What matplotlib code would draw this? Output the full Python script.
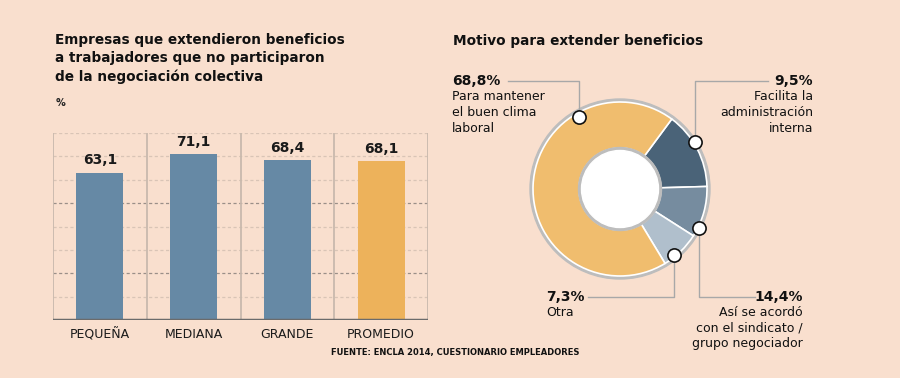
import matplotlib.pyplot as plt
import numpy as np

# bar chart data
tamanos = ['PEQUEÑA', 'MEDIANA', 'GRANDE', 'PROMEDIO']
pct_empresas = [63.1, 71.1, 68.4, 68.1]
etiquetas_barras = ['63,1', '71,1', '68,4', '68,1']

# donut data (drawn clockwise from the top-right edge of the yellow slice)
motivos = ['Facilita la administración interna',
           'Así se acordó con el sindicato / grupo negociador',
           'Otra', 'Para mantener el buen clima laboral']
pct_motivos = [14.4, 9.5, 7.3, 68.8]

BG = '#f9dfce'
BLUE = '#6689a5'
ORANGE = '#edb25b'
FONT = 'DejaVu Sans'

plt.rcParams['font.family'] = [FONT]

fig = plt.figure(figsize=(9, 3.78), dpi=100, facecolor=BG)
W, H = 900, 378


def px(x, y):
    return x / W, 1 - y / H


# ---- left: bars ----
ax = fig.add_axes([53 / W, 1 - 320 / H, (428 - 53) / W, (320 - 133) / H])
ax.set_facecolor(BG)
x = np.arange(len(tamanos))
colors = [BLUE, BLUE, BLUE, ORANGE]
ax.bar(x, pct_empresas, width=0.5, color=colors, zorder=3)
ax.set_xlim(-0.5, len(tamanos) - 0.5)
ax.set_ylim(0, 80)
for v in range(10, 81, 10):
    dark = v in (20, 50)
    ax.axhline(v, color='#9a8f88' if dark else '#d9c4b6', lw=0.9,
               ls=(0, (2.5, 2)), zorder=1)
for b in np.arange(-0.5, len(tamanos), 1):
    ax.axvline(b, color='#c9b9ad', lw=1.3, zorder=2)
ax.axhline(0, color='#6b6b6b', lw=2.5, zorder=4)
for xi, v, t in zip(x, pct_empresas, etiquetas_barras):
    ax.text(xi, v + 2.2, t, ha='center', va='bottom', fontsize=10,
            fontweight='bold', color='#1a1a1a')
ax.set_xticks(x)
ax.set_xticklabels(tamanos, fontsize=9, color='#1a1a1a')
ax.tick_params(axis='x', length=0, pad=6)
ax.set_yticks([])
for s in ax.spines.values():
    s.set_visible(False)

fig.text(*px(55, 33), 'Empresas que extendieron beneficios\na trabajadores que no participaron\nde la negociación colectiva',
         fontsize=9.8, fontweight='bold', va='top', ha='left',
         linespacing=1.38, color='#111111')
fig.text(*px(56, 103), '%', fontsize=7, fontweight='bold', va='center', color='#222222')
fig.text(*px(455, 352), 'FUENTE: ENCLA 2014, CUESTIONARIO EMPLEADORES',
         fontsize=6, fontweight='bold', ha='center', va='center',
         family=['Liberation Sans Narrow', FONT], color='#111111')

# ---- right: donut ----
ov = fig.add_axes([0, 0, 1, 1])
ov.set_xlim(0, W)
ov.set_ylim(0, H)
ov.axis('off')
ov.patch.set_alpha(0)

cx, cy = 620, H - 189
ov.add_patch(plt.Circle((cx, cy), 90, color='#bdbdbd', zorder=1))
ov.pie(pct_motivos, colors=['#4a6378', '#768c9f', '#b0bfcc', '#f0bd6e'],
       startangle=53.5, counterclock=False, radius=87, center=(cx, cy),
       wedgeprops=dict(width=46, edgecolor='white', linewidth=1.2),
       frame=True)
ov.set_xlim(0, W)
ov.set_ylim(0, H)
ov.set_aspect('auto')
ov.axis('off')
ov.add_patch(plt.Circle((cx, cy), 41.5, color='#bdbdbd', zorder=5))
ov.add_patch(plt.Circle((cx, cy), 38.5, color='white', zorder=6))

fig.text(*px(453, 41), 'Motivo para extender beneficios', fontsize=9.8,
         fontweight='bold', va='center', color='#111111')

# callouts: (marker px, pct text, label text, text x, anchor, line start x, line y)
callouts = [
    ((579, 117), '68,8%', 'Para mantener\nel buen clima\nlaboral', 452, 'left', 508, 81),
    ((695, 142), '9,5%', 'Facilita la\nadministración\ninterna', 813, 'right', 768, 81),
    ((674, 255), '7,3%', 'Otra', 546, 'left', 588, 297),
    ((699, 228), '14,4%', 'Así se acordó\ncon el sindicato /\ngrupo negociador', 803, 'right', 755, 297),
]
for (mx, my), pct, lab, tx, ha, lx, ly in callouts:
    ov.plot([lx, mx, mx], [H - ly, H - ly, H - my], color='#a8a8a8', lw=1, zorder=7)
    ov.plot(mx, H - my, 'o', ms=9.5, mfc='white', mec='#111111', mew=1.2, zorder=8)
    fig.text(*px(tx, ly), pct, fontsize=10, fontweight='bold', ha=ha, va='center', color='#111111')
    fig.text(*px(tx, ly + 8.5), lab, fontsize=9, ha=ha, va='top', linespacing=1.3, color='#111111')

fig.savefig('out.png', dpi=100, facecolor=BG)
